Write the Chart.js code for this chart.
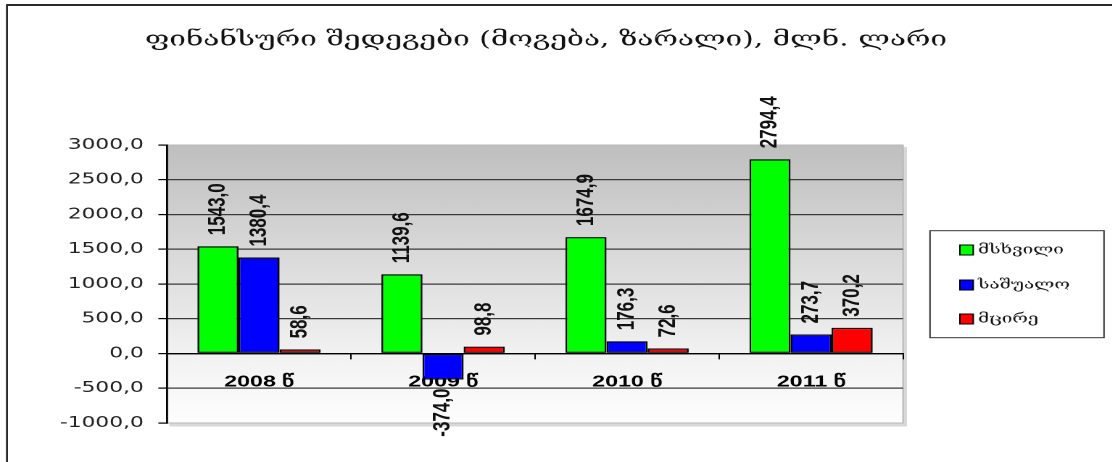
<!DOCTYPE html>
<html>
<head>
<meta charset="utf-8">
<script src="https://cdn.jsdelivr.net/npm/chart.js@4/dist/chart.umd.min.js"></script>
<style>
  html, body { margin: 0; padding: 0; background: #fff; overflow: hidden; }
  #wrap { position: absolute; left: 0; top: 0; width: 767px; height: 462px; transform: scaleX(1.45); transform-origin: 0 0; }
</style>
</head>
<body>
<div id="wrap"><canvas id="c" width="767" height="462"></canvas></div>
<script>
const title = 'ფინანსური შედეგები (მოგება, ზარალი), მლნ. ლარი';
const categories = ['2008 წ', '2009 წ', '2010 წ', '2011 წ'];
const seriesNames = ['მსხვილი', 'საშუალო', 'მცირე'];
const large = [1543.0, 1139.6, 1674.9, 2794.4];
const medium = [1380.4, -374.0, 176.3, 273.7];
const small = [58.6, 98.8, 72.6, 370.2];
const yTicks = [3000, 2500, 2000, 1500, 1000, 500, 0, -500, -1000];
const colors = ['#00ff00', '#0000ff', '#ff0000'];

const fmt = v => v.toFixed(1).replace('.', ',');
const GEO = "'DejaVu Serif', 'DejaVu Sans', serif";

const decor = {
  id: 'decor',
  beforeDraw(chart) {
    const { ctx, chartArea: a } = chart;
    ctx.save();
    ctx.fillStyle = '#fff';
    ctx.fillRect(0, 0, chart.width, chart.height);
    // outer frame (left + top)
    ctx.strokeStyle = '#2a2a2a';
    ctx.lineWidth = 1.4;
    ctx.beginPath(); ctx.moveTo(4.8, chart.height); ctx.lineTo(4.8, 5); ctx.stroke();
    ctx.lineWidth = 2;
    ctx.beginPath(); ctx.moveTo(4.2, 5); ctx.lineTo(chart.width, 5); ctx.stroke();
    // plot shadow
    ctx.fillStyle = '#d8d8d8';
    ctx.fillRect(a.left + 1.5, a.top + 2, a.width + 1.2, a.height + 1.5);
    // plot gradient
    const g = ctx.createLinearGradient(0, a.top, 0, a.bottom);
    g.addColorStop(0, '#bfbfbf');
    g.addColorStop(0.74, '#f1f1f1');
    g.addColorStop(1, '#fefefe');
    ctx.fillStyle = g;
    ctx.fillRect(a.left, a.top, a.width, a.height);
    ctx.strokeStyle = '#b8b8b8';
    ctx.lineWidth = 1;
    ctx.strokeRect(a.left, a.top, a.width, a.height);
    ctx.restore();
  },
  afterDatasetsDraw(chart) {
    const { ctx } = chart;
    ctx.save();
    ctx.fillStyle = '#111';
    ctx.font = "bold 17px 'Liberation Sans', Arial, sans-serif";
    ctx.textBaseline = 'middle';
    chart.data.datasets.forEach((ds, di) => {
      const meta = chart.getDatasetMeta(di);
      meta.data.forEach((bar, i) => {
        const v = ds.data[i];
        const txt = fmt(v);
        ctx.save();
        ctx.translate(bar.x, v >= 0 ? bar.y - 11 : bar.y + 9);
        ctx.rotate(-Math.PI / 2);
        ctx.textAlign = v >= 0 ? 'left' : 'right';
        ctx.fillText(txt, 0, 0);
        ctx.restore();
      });
    });
    ctx.restore();
  },
  afterDraw(chart) {
    const { ctx } = chart;
    ctx.save();
    // title
    ctx.fillStyle = '#111';
    ctx.font = '20.5px ' + GEO;
    ctx.textAlign = 'center';
    ctx.textBaseline = 'middle';
    ctx.fillText(title, 376.6, 40);
    // legend
    ctx.strokeStyle = '#333';
    ctx.lineWidth = 1;
    ctx.strokeRect(641.4, 230.7, 120, 107);
    ctx.textAlign = 'left';
    ctx.font = '13px ' + GEO;
    const ys = [250, 285, 319];
    chart.data.datasets.forEach((ds, di) => {
      ctx.fillStyle = ds.backgroundColor;
      ctx.fillRect(662, ys[di] - 5, 9.2, 10);
      ctx.strokeStyle = '#000';
      ctx.lineWidth = 1;
      ctx.strokeRect(662, ys[di] - 5, 9.2, 10);
      ctx.fillStyle = '#111';
      ctx.fillText(ds.label, 674.5, ys[di]);
    });
    ctx.restore();
  }
};

new Chart(document.getElementById('c'), {
  type: 'bar',
  data: {
    labels: categories,
    datasets: [
      { label: seriesNames[0], data: large, backgroundColor: colors[0] },
      { label: seriesNames[1], data: medium, backgroundColor: colors[1] },
      { label: seriesNames[2], data: small, backgroundColor: colors[2] }
    ]
  },
  options: {
    responsive: false,
    animation: false,
    devicePixelRatio: 2,
    layout: { padding: { left: 0, right: 144.2, top: 145, bottom: 39 } },
    datasets: {
      bar: {
        borderColor: '#000',
        borderWidth: 1.3,
        borderSkipped: false,
        categoryPercentage: 0.67,
        barPercentage: 1.0
      }
    },
    plugins: {
      legend: { display: false },
      title: { display: false },
      tooltip: { enabled: false }
    },
    scales: {
      y: {
        min: -1000,
        max: 3000,
        afterFit(scale) { scale.width = 115.2; },
        afterBuildTicks(scale) { scale.ticks = yTicks.map(v => ({ value: v })); },
        ticks: {
          color: '#222',
          font: { family: "'DejaVu Sans', sans-serif", size: 15 },
          padding: 10,
          callback: v => fmt(v)
        },
        grid: {
          color: ctx => (ctx.tick && (ctx.tick.value === 3000 || ctx.tick.value === -1000)) ? 'rgba(0,0,0,0)' : '#3a3a3a',
          lineWidth: 1.2,
          tickColor: '#000',
          tickLength: 6
        },
        border: { display: true, color: '#000', width: 1.4 }
      },
      x: {
        position: { y: 0 },
        ticks: {
          color: '#000',
          font: { family: "'Liberation Sans', Arial, sans-serif", size: 16, weight: 'bold' },
          padding: 14,
          maxRotation: 0
        },
        grid: {
          display: true,
          drawOnChartArea: false,
          offset: true,
          tickColor: '#000',
          tickLength: 5
        },
        border: { display: true, color: '#000', width: 1.4 }
      }
    }
  },
  plugins: [decor]
});
</script>
</body>
</html>
